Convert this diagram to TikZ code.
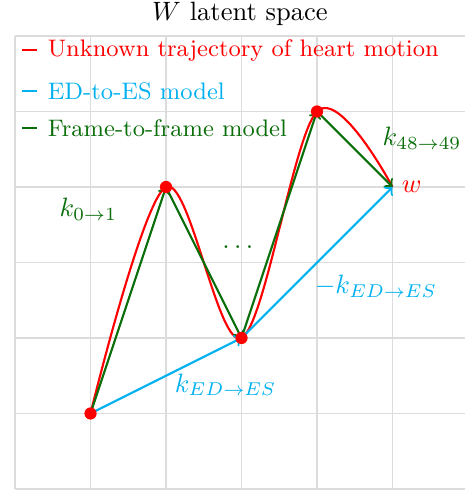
\documentclass[tikz,border=0pt]{standalone}
\usepackage{amsmath, amssymb}
\usepackage{xcolor}
\definecolor{traj-red}{HTML}{FF0000}
\definecolor{eds-blue}{HTML}{00B0F0}
\definecolor{f2f-green}{HTML}{0A6E0A}
\definecolor{grid-gray}{HTML}{DCDCDC}

\begin{document}
\begin{tikzpicture}[every node/.style={font=\normalsize}]
    \useasboundingbox (-0.199,-0.04) rectangle (5.947,6.477);
    \draw[grid-gray, line width=0.5pt] (0,0) grid (6,6);
    \coordinate (p0) at (1,1);
    \coordinate (p1) at (2,4);
    \coordinate (p2) at (3,2);
    \coordinate (p3) at (4,5);
    \coordinate (w) at (5,4);
    \node (title) at (2.98,6.29) {$W$ latent space};
    \draw[thick, color=traj-red] plot[smooth, tension=0.55] coordinates {(p0) (p1) (p2) (p3) (w)};
    \draw[->, thick, color=f2f-green] (p0) -- (p1);
    \draw[->, thick, color=f2f-green] (p1) -- (p2);
    \draw[->, thick, color=f2f-green] (p2) -- (p3);
    \draw[->, thick, color=f2f-green] (p3) -- (w);
    \draw[->, thick, color=eds-blue] (p0) -- (p2);
    \draw[->, thick, color=eds-blue] (p2) -- (w);
    \foreach \p in {p0,p1,p2,p3} \fill[traj-red] (\p) circle (2.3pt);
    \node[color=traj-red, right] (wlab) at (w) {$w$};
    \node[color=f2f-green] (k01) at (0.97,3.70) {$k_{0\to1}$};
    \node[color=f2f-green] (k4849) at (5.39,4.65) {$k_{48\to49}$};
    \node[color=f2f-green] (dots) at (2.98,3.21) {$\dots$};
    \node[color=eds-blue] (kneg) at (4.78,2.68) {$-k_{ED\to ES}$};
    \node[color=eds-blue] (kpos) at (2.79,1.38) {$k_{ED\to ES}$};
    % legend
    \draw[thick, color=traj-red] (0.09,5.81) -- (0.29,5.81);
    \node[color=traj-red, right, font=\small] (leg1) at (0.31,5.81) {Unknown trajectory of heart motion};
    \draw[thick, color=eds-blue] (0.09,5.27) -- (0.29,5.27);
    \node[color=eds-blue, right, font=\small] (leg2) at (0.31,5.27) {ED-to-ES model};
    \draw[thick, color=f2f-green] (0.09,4.78) -- (0.29,4.78);
    \node[color=f2f-green, right, font=\small] (leg3) at (0.31,4.78) {Frame-to-frame model};
  \end{tikzpicture}
\end{document}
